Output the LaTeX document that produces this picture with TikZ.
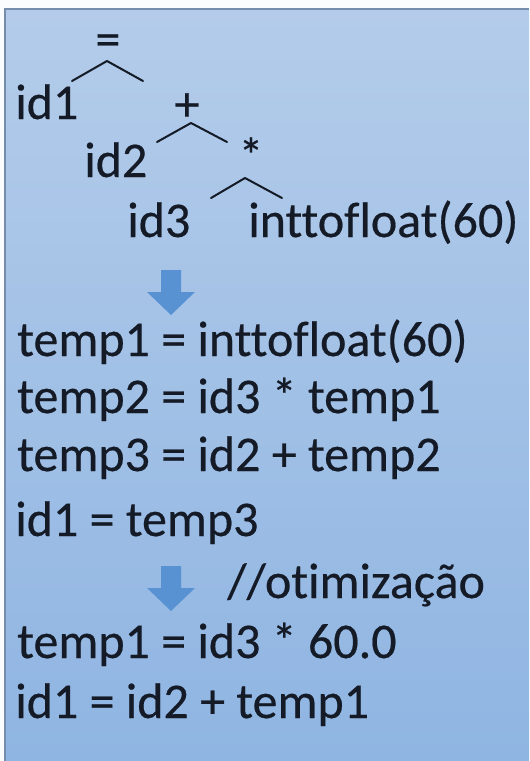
\documentclass[tikz,border=0pt]{standalone}
\usepackage{fontspec}
\setmainfont{Carlito}[Ligatures={NoCommon,NoRequired,NoContextual}, FakeBold=0.4]
\definecolor{bgtop}{RGB}{180,204,234}
\definecolor{bgbot}{RGB}{143,181,226}
\definecolor{framec}{RGB}{118,140,172}
\definecolor{inkc}{RGB}{20,26,38}
\definecolor{arrowblue}{RGB}{88,146,210}
\tikzset{
  txt/.style={anchor=base west, inner sep=0pt, text=inkc, font=\fontsize{37.5}{45}\selectfont},
  opsym/.style={anchor=center, inner sep=0pt, text=inkc, font=\fontsize{37.5}{45}\selectfont},
  caret/.style={draw=inkc, line width=1.5pt, line join=round, line cap=round},
  blockarrow/.pic={\fill[arrowblue] (-10,0) -- (10,0) -- (10,22) -- (24,22) -- (0,45) -- (-24,22) -- (-10,22) -- cycle;}
}
\begin{document}
\begin{tikzpicture}[x=0.75pt,y=-0.75pt]
\useasboundingbox (0,0) rectangle (529,761);
\fill[white!95!bgtop] (0,0) rectangle (529,761);
\shade[top color=bgtop, bottom color=bgbot] (5,9) rectangle (529,761);
\draw[framec, line width=1.5pt] (5,761) -- (5,9) -- (529,9);

% tree
\node[opsym] (eq) at (108,45) {=};
\coordinate (c1l) at (72,81);
\coordinate (c1t) at (107,61);
\coordinate (c1r) at (143,81);
\draw[caret] (c1l) -- (c1t) -- (c1r);
\node[txt] (id1) at (15,119) {id1};
\node[opsym] (plus) at (187,107) {+};
\coordinate (c2l) at (157,142);
\coordinate (c2t) at (191,123);
\coordinate (c2r) at (227,142);
\draw[caret] (c2l) -- (c2t) -- (c2r);
\node[txt] (id2) at (84,177) {id2};
\node[opsym] (mul) at (251,155) {*};
\coordinate (c3l) at (211,198);
\coordinate (c3t) at (245,178);
\coordinate (c3r) at (282,198);
\draw[caret] (c3l) -- (c3t) -- (c3r);
\node[txt] (id3) at (127,237) {id3};
\node[txt] (itf) at (248,237) {inttofloat(60)};

% arrows
\pic at (171,270) {blockarrow};
\pic at (171,566) {blockarrow};

% code lines
\node[txt] (l1) at (17,356) {temp1 = inttofloat(60)};
\node[txt] (l2) at (17,413) {temp2 = id3 * temp1};
\node[txt] (l3) at (17,471) {temp3 = id2 + temp2};
\node[txt] (l4) at (15,536) {id1 = temp3};
\node[txt] (opt) at (227,598) {//otimização};
\node[txt] (l5) at (17,658) {temp1 = id3 * 60.0};
\node[txt] (l6) at (15,718) {id1 = id2 + temp1};
\end{tikzpicture}
\end{document}
